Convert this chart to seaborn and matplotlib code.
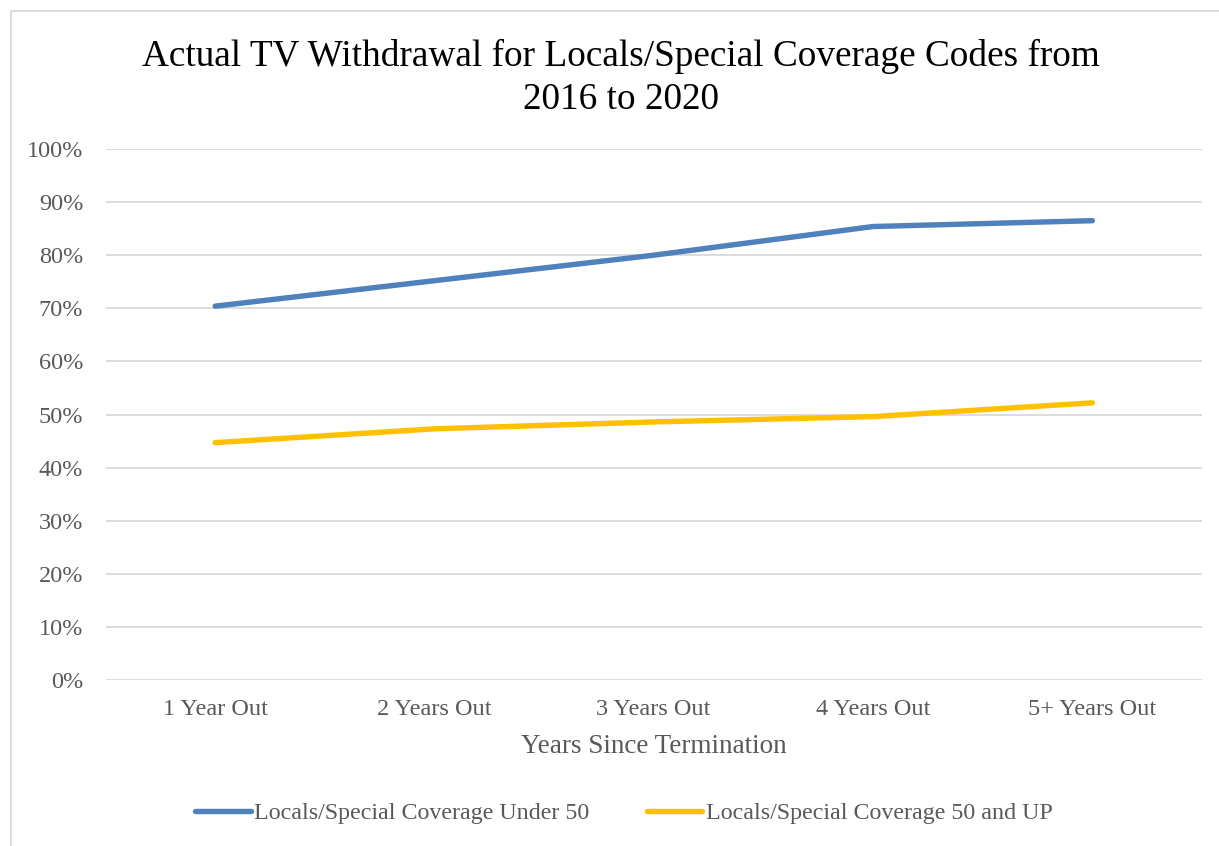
import pandas as pd
import matplotlib.pyplot as plt
import seaborn as sns
from matplotlib.lines import Line2D
from matplotlib.ticker import PercentFormatter

# datos
categorias = ["1 Year Out", "2 Years Out", "3 Years Out", "4 Years Out", "5+ Years Out"]
under_50 = [70.4, 75.2, 80.0, 85.4, 86.5]
over_50 = [44.7, 47.3, 48.6, 49.6, 52.2]
serie_under = "Locals/Special Coverage Under 50"
serie_over = "Locals/Special Coverage 50 and UP"

df = pd.DataFrame({
    "cat": categorias * 2,
    "valor": under_50 + over_50,
    "serie": [serie_under] * len(categorias) + [serie_over] * len(categorias),
})
df["pos"] = df["cat"].map({c: i for i, c in enumerate(categorias)})

sns.set_style("white")
plt.rcParams["font.family"] = ["Liberation Serif", "DejaVu Serif"]
gris = "#595959"

fig = plt.figure(figsize=(12.19, 8.46), dpi=100)
ax = fig.add_axes([105.5 / 1219, 1 - 680 / 846, 1096.5 / 1219, 531 / 846])

sns.lineplot(
    data=df, x="pos", y="valor", hue="serie", sort=False,
    palette={serie_under: "#4F81BD", serie_over: "#FFC000"},
    linewidth=3.9, solid_capstyle="round", ax=ax, legend=True,
)

ax.set_xlim(-0.5, len(categorias) - 0.5)
ax.set_ylim(0, 100)
ax.set_yticks(range(0, 101, 10))
ax.yaxis.set_major_formatter(PercentFormatter(decimals=0))
ax.set_xticks(range(len(categorias)))
ax.set_xticklabels(categorias)
ax.grid(axis="y", color="#D9D9D9", linewidth=1.3)
ax.set_axisbelow(True)
for s in ax.spines.values():
    s.set_visible(False)
ax.tick_params(axis="both", length=0, labelsize=17.5, colors=gris)
ax.tick_params(axis="y", pad=16)
ax.tick_params(axis="x", pad=14)
ax.set_ylabel("")
ax.set_xlabel("Years Since Termination", fontsize=19.5, color=gris, labelpad=10)

fig.text(621 / 1219, 1 - 78 / 846,
         "Actual TV Withdrawal for Locals/Special Coverage Codes from\n2016 to 2020",
         fontsize=26.8, color="black", ha="center", va="center", linespacing=1.3)

leg = ax.legend(loc="center", bbox_to_anchor=(624 / 1219, 1 - 813 / 846),
                bbox_transform=fig.transFigure, ncol=2, frameon=False,
                fontsize=17.3, handlelength=2.3, handletextpad=0.15, columnspacing=2.4)
for t in leg.get_texts():
    t.set_color(gris)
for h in leg.get_lines():
    h.set_linewidth(3.9)
    h.set_solid_capstyle("round")

# borde del area del grafico (solo izquierda y arriba visibles)
x0, y0 = 11 / 1219, 1 - 11 / 846
fig.add_artist(Line2D([x0, x0], [0, y0], transform=fig.transFigure, color="#D9D9D9", lw=1.3))
fig.add_artist(Line2D([x0, 1], [y0, y0], transform=fig.transFigure, color="#D9D9D9", lw=1.3))

fig.savefig("out.png", dpi=100)
